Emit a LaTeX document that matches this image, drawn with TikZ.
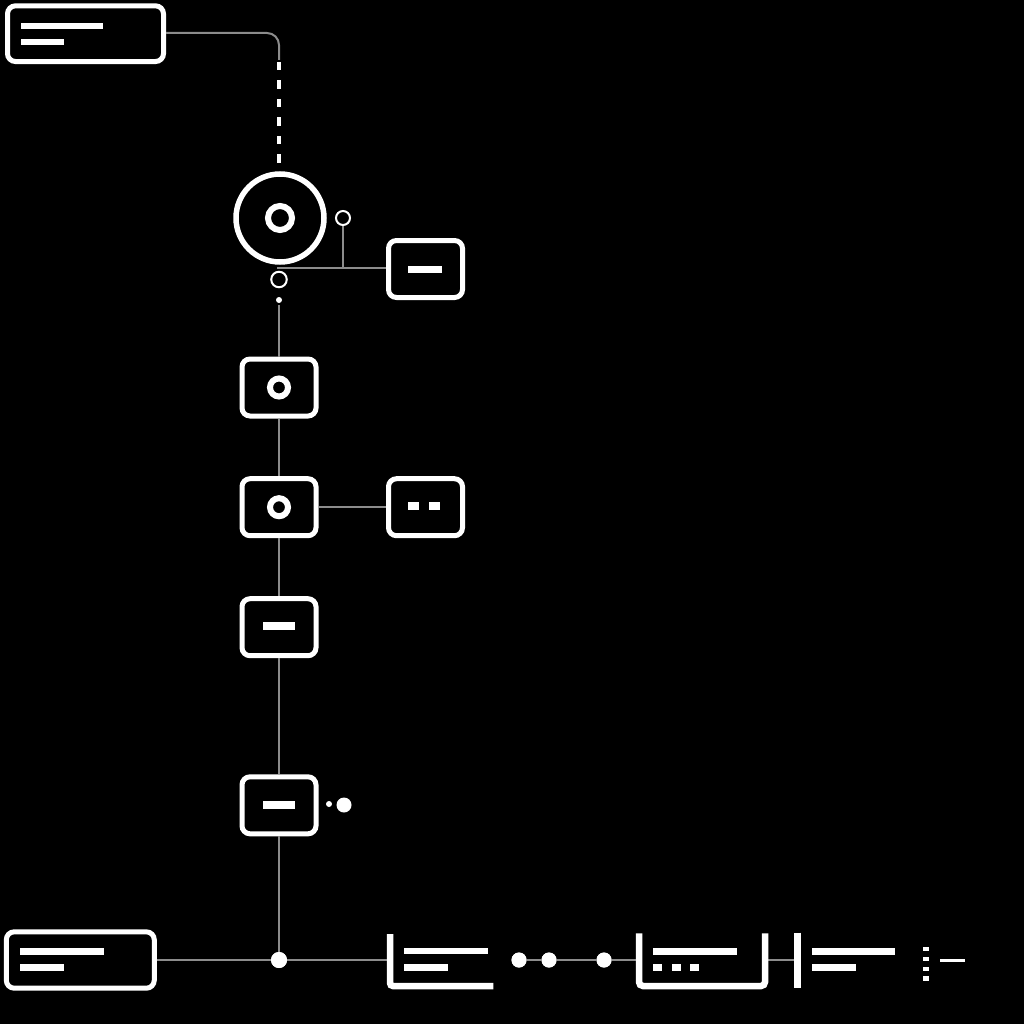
\documentclass[tikz,border=0pt]{standalone}
\begin{document}
\begin{tikzpicture}[x=1pt,y=-1pt,
  box/.style={draw=white,line width=5pt,rounded corners=8pt,minimum width=74pt,minimum height=57pt,inner sep=0pt,fill=black},
  conn/.style={draw=linegray,line width=2pt},
  bar/.style={fill=white},
  thick stroke/.style={draw=white,line width=6.5pt},
  dotn/.style={circle,fill=white,inner sep=0pt,minimum size=15pt},
  ring/.style={circle,draw=white,line width=6pt,inner sep=0pt,minimum size=18pt}]
\definecolor{linegray}{HTML}{8C8C8C}
\fill[black] (0,0) rectangle (1024,1024);
\useasboundingbox (0,0) rectangle (1024,1024);

% ---- nodes
\node[box,minimum width=156pt,minimum height=55.7pt] (tl) at (85.5,33.7) {};
\node[circle,draw=white,line width=5.5pt,minimum size=88pt,inner sep=0pt] (big) at (280,218) {};
\node[ring,minimum size=24pt] (bigring) at (280,218) {};
\node[circle,draw=white,line width=2pt,minimum size=14pt,inner sep=0pt] (sc1) at (343,218) {};
\node[circle,draw=white,line width=2pt,minimum size=15.5pt,inner sep=0pt] (sc2) at (279,279.5) {};
\node[circle,fill=white,inner sep=0pt,minimum size=6pt] (d0) at (279,300) {};
\node[box] (A) at (425.5,269) {};
\node[box] (r1) at (279,387.5) {};
\node[box] (r2) at (279,507.2) {};
\node[box] (B) at (425.5,507.2) {};
\node[box] (b3) at (279,627.2) {};
\node[box] (b4) at (279,805.3) {};
\node[box,minimum width=148pt,minimum height=56.4pt] (bl) at (80.3,960) {};
\node[dotn,minimum size=16pt] (j) at (279,960) {};
\node[dotn] (p1) at (519,960) {};
\node[dotn] (p2) at (549,960) {};
\node[dotn] (p3) at (604,960) {};
\node[circle,fill=white,inner sep=0pt,minimum size=6pt] (s1) at (329,804) {};
\node[dotn] (s2) at (344,805) {};

\coordinate (c1top) at (279,60);
\coordinate (dashtop) at (279,62);
\coordinate (dashbot) at (279,163);
\coordinate (hstart) at (277,268);
\coordinate (hmid) at (343,268);
\coordinate (vstart) at (279,305);
\coordinate (Lin) at (387,960);
\coordinate (Uin) at (636,960);
\coordinate (Uout) at (768,960);
\coordinate (Vin) at (794.5,960);

% ---- connectors
\draw[conn,rounded corners=12pt] (tl.east |- 0,33) -- (279,33) -- (c1top);
\draw[white,line width=4pt,dash pattern=on 8.5pt off 10pt] (dashtop) -- (dashbot);
\draw[conn] (hstart) -- (A.west |- hstart);
\draw[conn] (sc1.south) -- (hmid);
\draw[conn] (vstart) -- (r1.north);
\draw[conn] (r1.south) -- (r2.north);
\draw[conn] (r2.east) -- (B.west);
\draw[conn] (r2.south) -- (b3.north);
\draw[conn] (b3.south) -- (b4.north);
\draw[conn] (b4.south) -- (j);
\draw[conn] (bl.east) -- (j) -- (Lin);
\draw[conn] (p1) -- (p2) -- (p3) -- (Uin);
\draw[conn] (Uout) -- (Vin);

% redraw nodes on top
\node[dotn,minimum size=16pt] at (j) {};
\node[dotn] at (p1) {};
\node[dotn] at (p2) {};
\node[dotn] at (p3) {};

% ---- glyphs
\fill[bar] (20.7,22.7) rectangle (103,29.3);
\fill[bar] (20.7,38.7) rectangle (64,45.3);
\fill[bar] (407.7,266) rectangle (441.7,273.3);
\node[ring] at (r1) {};
\node[ring] at (r2) {};
\fill[bar] (408.3,502.3) rectangle (419.3,510);
\fill[bar] (429,502.3) rectangle (440,510);
\fill[bar] (262.7,621.7) rectangle (295,630);
\fill[bar] (262.7,800.5) rectangle (295,809.3);
\fill[bar] (20,948.3) rectangle (104,955);
\fill[bar] (20,964) rectangle (64,971);

% L bracket
\draw[thick stroke,rounded corners=3pt] (390,934) -- (390,986) -- (493.3,986);
\fill[bar] (404.3,947.7) rectangle (487.7,954.3);
\fill[bar] (404.3,964) rectangle (447.7,970.7);

% U bracket
\draw[thick stroke,rounded corners=4pt] (639,933.3) -- (639,986) -- (765,986) -- (765,933.3);
\fill[bar] (652.7,948.3) rectangle (736.7,955);
\fill[bar] (653.3,964) rectangle (662.3,971);
\fill[bar] (671.7,964) rectangle (681,971);
\fill[bar] (690,964) rectangle (699,971);

% vertical bar
\draw[thick stroke] (797.5,932.7) -- (797.5,988.3);
\fill[bar] (811.7,947.7) rectangle (895,955);
\fill[bar] (811.7,964) rectangle (855.7,971);

% dotted squares and short line
\fill[bar] (923.3,947) rectangle (929.3,951.3);
\fill[bar] (923.3,956.7) rectangle (929.3,961);
\fill[bar] (923.3,966.7) rectangle (929.3,971);
\fill[bar] (923.3,976.3) rectangle (929.3,980.7);
\draw[white,line width=2.5pt] (940,960.3) -- (965.3,960.3);
\end{tikzpicture}
\end{document}
